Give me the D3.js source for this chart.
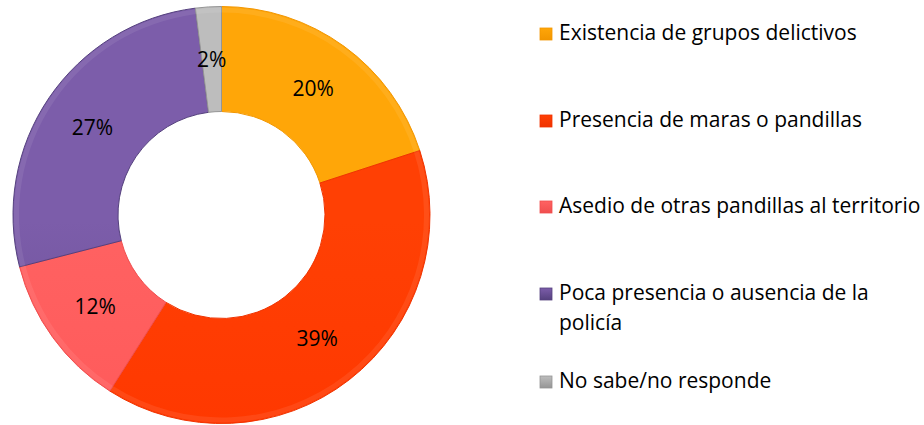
<!DOCTYPE html>
<html>
<head>
<meta charset="utf-8">
<script src="https://cdn.jsdelivr.net/npm/d3@7"></script>
<style>
  body { margin: 0; background: #fff; }
  svg { display: block; font-family: "Open Sans", sans-serif; }
  .lbl { font-size: 21px; fill: #000; }
  .leg { font-size: 21px; fill: #000; }
</style>
</head>
<body>
<svg></svg>
<script>
// chart data
var categories = [
    "Existencia de grupos delictivos",
    "Presencia de maras o pandillas",
    "Asedio de otras pandillas al territorio",
    "Poca presencia o ausencia de la policía",
    "No sabe/no responde"
];
var values = [20, 39, 12, 27, 2];
var colors = ["#FFA000", "#FF3800", "#FF5A5A", "#6A4F94", "#A8A8A8"];
var lightColors = ["#FFA608", "#FF4004", "#FF6262", "#7C5DAA", "#BDBDBD"];
var darkColors = ["#F29600", "#F03300", "#F04E4E", "#55417E", "#959595"];
// legend lines (wrapped like the original)
var legendLines = [
    ["Existencia de grupos delictivos"],
    ["Presencia de maras o pandillas"],
    ["Asedio de otras pandillas al territorio"],
    ["Poca presencia o ausencia de la", "policía"],
    ["No sabe/no responde"]
];
var legendY = [40, 127, 213, 300, 388];

var screen = {width: 924, height: 425};
var center = {x: 221.5, y: 215};
var outerR = 208.5, innerR = 103.5;

var svg = d3.select("svg")
    .attr("width", screen.width)
    .attr("height", screen.height);

var defs = svg.append("defs");
colors.forEach(function(c, i) {
    var grad = defs.append("linearGradient")
        .attr("id", "grad" + i)
        .attr("gradientUnits", "userSpaceOnUse")
        .attr("x1", 0).attr("y1", center.y - outerR)
        .attr("x2", 0).attr("y2", center.y + outerR);
    grad.append("stop").attr("offset", "0%").attr("stop-color", lightColors[i]);
    grad.append("stop").attr("offset", "50%").attr("stop-color", colors[i]);
    grad.append("stop").attr("offset", "100%").attr("stop-color", darkColors[i]);

    var mg = defs.append("linearGradient")
        .attr("id", "mgrad" + i)
        .attr("x1", 0).attr("y1", 0).attr("x2", 0).attr("y2", 1);
    mg.append("stop").attr("offset", "0%").attr("stop-color", lightColors[i]);
    mg.append("stop").attr("offset", "100%").attr("stop-color", darkColors[i]);
});

var pie = d3.pie().sort(null).value(function(d) { return d; });
var arcs = pie(values);

var arc = d3.arc().innerRadius(innerR).outerRadius(outerR);
var labelArc = d3.arc().innerRadius(156).outerRadius(156);

var g = svg.append("g")
    .classed("graph", true)
    .attr("transform", "translate(" + center.x + "," + center.y + ")");

g.selectAll("path")
    .data(arcs)
    .enter()
    .append("path")
    .attr("d", arc)
    .attr("fill", function(d, i) { return "url(#grad" + i + ")"; })
    .attr("stroke", function(d, i) { return darkColors[i]; })
    .attr("stroke-width", 1);

// soft bevel highlight along the outer edge
g.selectAll("path.bevel")
    .data(arcs)
    .enter()
    .append("path")
    .classed("bevel", true)
    .attr("d", d3.arc().innerRadius(outerR - 6).outerRadius(outerR - 1))
    .attr("fill", "#fff")
    .attr("opacity", 0.08);

g.selectAll("text")
    .data(arcs)
    .enter()
    .append("text")
    .classed("lbl", true)
    .attr("text-anchor", "middle")
    .attr("dy", "0.35em")
    .attr("x", function(d) { return labelArc.centroid(d)[0]; })
    .attr("y", function(d) { return labelArc.centroid(d)[1]; })
    .text(function(d) { return d.value + "%"; });

// legend
var legend = svg.append("g").classed("legend", true);
var items = legend.selectAll("g")
    .data(categories)
    .enter()
    .append("g");

items.append("rect")
    .attr("x", 540)
    .attr("y", function(d, i) { return legendY[i] - 12; })
    .attr("width", 12)
    .attr("height", 12)
    .attr("fill", function(d, i) { return "url(#mgrad" + i + ")"; })
    .attr("stroke", function(d, i) { return darkColors[i]; })
    .attr("stroke-width", 0.8);

items.each(function(d, i) {
    var t = d3.select(this).append("text")
        .classed("leg", true)
        .attr("x", 559)
        .attr("y", legendY[i]);
    legendLines[i].forEach(function(line, j) {
        t.append("tspan")
            .attr("x", 559)
            .attr("dy", j === 0 ? 0 : 30)
            .text(line);
    });
});
</script>
</body>
</html>
